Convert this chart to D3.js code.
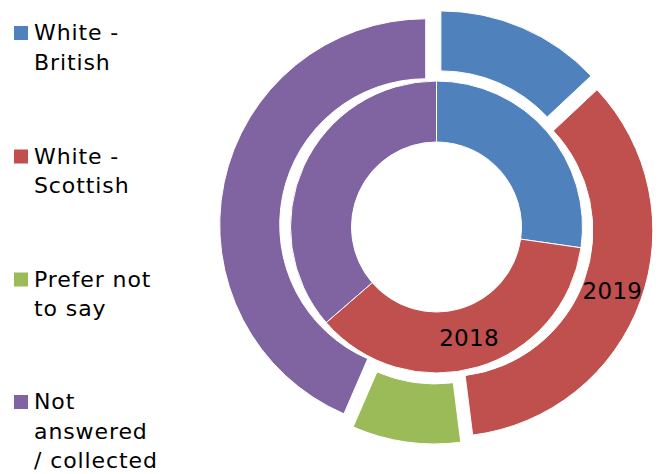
<!DOCTYPE html>
<html>
<head>
<meta charset="utf-8">
<script src="https://cdn.jsdelivr.net/npm/d3@7"></script>
<style>
  body { margin: 0; background: #fff; }
  text { font-family: "DejaVu Sans", Verdana, sans-serif; fill: #000; }
</style>
</head>
<body>
<div id="chart"></div>
<script>
const categories = ["White - British", "White - Scottish", "Prefer not to say", "Not answered / collected"];
const legendLines = [["White -", "British"], ["White -", "Scottish"], ["Prefer not", "to say"], ["Not", "answered", "/ collected"]];
const years = ["2018", "2019"];
const values2018 = [15, 20, 0, 20];
const values2019 = [13, 35, 8.5, 43.5];
const colors = ["#4F81BD", "#C0504D", "#9BBB59", "#8064A2"];

const width = 659, height = 474;
const cx = 436.5, cy = 227;

const svg = d3.select("#chart").append("svg")
    .attr("width", width)
    .attr("height", height);

const color = d3.scaleOrdinal().domain(categories).range(colors);

const pie = d3.pie().sort(null).value(d => d.value);

const rings = [
  { year: years[0], values: values2018, inner: 85, outer: 146, explode: 0 },
  { year: years[1], values: values2019, inner: 146, outer: 206, explode: 11 }
];

const g = svg.append("g").attr("transform", `translate(${cx},${cy})`);

rings.forEach(ring => {
  const arc = d3.arc().innerRadius(ring.inner).outerRadius(ring.outer);
  const slices = pie(categories.map((c, i) => ({ cat: c, value: ring.values[i] })));

  const offset = d => {
    const a = (d.startAngle + d.endAngle) / 2;
    return [Math.sin(a) * ring.explode, -Math.cos(a) * ring.explode];
  };

  g.append("g").selectAll("path")
    .data(slices.filter(d => d.value > 0))
    .join("path")
    .attr("d", arc)
    .attr("transform", d => `translate(${offset(d)})`)
    .attr("fill", d => color(d.data.cat))
    .attr("stroke", "#fff")
    .attr("stroke-width", 1);

  // series name sits on the White - Scottish slice
  const lab = slices[1];
  const [ox, oy] = offset(lab);
  const [lx, ly] = arc.centroid(lab);
  g.append("text")
    .attr("x", lx + ox)
    .attr("y", ly + oy)
    .attr("text-anchor", "middle")
    .attr("dy", "0.36em")
    .style("font-size", "23px")
    .style("letter-spacing", "0.3px")
    .text(ring.year);
});

// legend
const legend = svg.append("g");
const itemTops = [26, 149.5, 272.5, 395];
categories.forEach((c, i) => {
  const item = legend.append("g").attr("transform", `translate(14,${itemTops[i]})`);
  item.append("rect")
    .attr("width", 14)
    .attr("height", 14)
    .attr("fill", color(c));
  item.selectAll("text")
    .data(legendLines[i])
    .join("text")
    .attr("x", 20)
    .attr("y", (d, j) => 14 + j * 29.5)
    .style("font-size", "22px")
    .style("letter-spacing", "0.9px")
    .text(d => d);
});
</script>
</body>
</html>
